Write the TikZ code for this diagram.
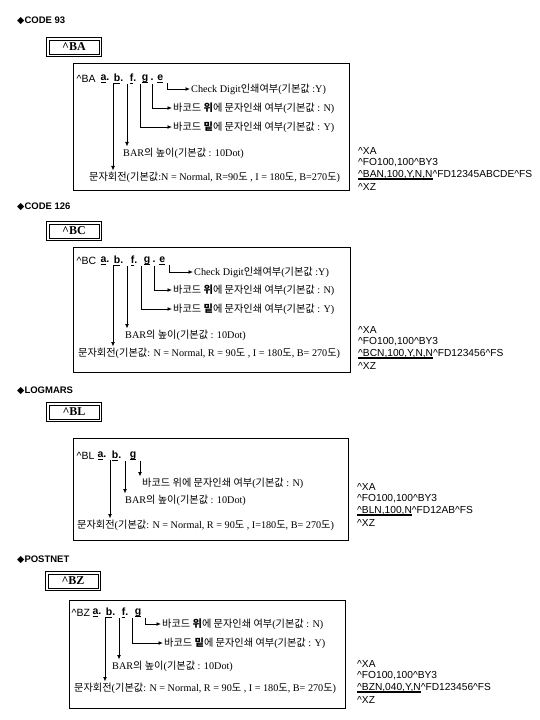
\documentclass[tikz,border=0pt]{standalone}
\usepackage{fontspec}
\setmainfont{Liberation Serif}
\setsansfont{Liberation Sans}
\newfontfamily\krfont{Noto Sans CJK KR}
\newfontfamily\symfont{DejaVu Sans}
\usetikzlibrary{arrows.meta}

\newcommand{\ko}[1]{{\krfont #1}}
\newcommand{\uln}[2][0.9pt]{\setbox0\hbox{#2}\rlap{\rule[-1.9pt]{\wd0}{#1}}\box0}

\tikzset{
  hd/.style={font=\sffamily\bfseries\fontsize{9.5}{11}\selectfont, anchor=west, inner sep=0pt},
  cmdbox/.style={minimum width=54pt, minimum height=18pt, inner sep=0pt, font=\bfseries\fontsize{12}{13}\selectfont},
  boxline/.style={draw, line width=0.7pt},
  frame/.style={draw, line width=0.8pt},
  row/.style={font=\sffamily\fontsize{10.5}{11}\selectfont, anchor=west, inner sep=0.5pt},
  letter/.style={font=\sffamily\bfseries\fontsize{10.5}{11}\selectfont, anchor=east, inner sep=0.5pt},
  desc/.style={font=\fontsize{10.2}{11}\selectfont, anchor=west, inner sep=1pt},
  zpl/.style={font=\sffamily\fontsize{10.2}{11}\selectfont, anchor=west, inner sep=0pt},
  arr/.style={-{Latex[length=4.5pt,width=4pt]}, line width=1pt}
}

\begin{document}
\begin{tikzpicture}[x=1pt,y=-1pt]
\useasboundingbox (0,0) rectangle (540,720);

% CODE 93
\node[hd] (t93) at (17,21) {{\symfont ◆}CODE 93};
\node[cmdbox] (ba) at (74,47) {\textasciicircum BA};
\draw[boxline] (ba.south west) rectangle (ba.north east);
\draw[boxline] ([shift={(2.2pt,2.2pt)}]ba.south west) rectangle ([shift={(-2.2pt,-2.2pt)}]ba.north east);
\draw[frame] (73,63) rectangle (349,190);
\node[row] (ba-cmd) at (76,79) {\textasciicircum BA};
\node[letter] (ba-a) at (110,79) {\uln{a}.};
\node[letter] (ba-b) at (124,79) {\uln{b}.};
\node[letter] (ba-f) at (137,79) {\uln{f}.};
\node[letter] (ba-g) at (149,79) {\uln{g}};
\node[letter] (ba-e) at (164,79) {. \uln{e}};
\node[desc] (ba-chk) at (190,89) {Check Digit\ko{인쇄여부}(\ko{기본값} :Y)};
\node[desc] (ba-top) at (172,108) {\ko{바코드 \textbf{위}에 문자인쇄 여부}(\ko{기본값} : N)};
\node[desc] (ba-bot) at (172,127) {\ko{바코드 \textbf{밑}에 문자인쇄 여부}(\ko{기본값} : Y)};
\node[desc] (ba-bar) at (122,153) {BAR\ko{의 높이}(\ko{기본값} : 10Dot)};
\node[desc] (ba-rot) at (88,177) {\ko{문자회전}(\ko{기본값}:N = Normal, R=90\ko{도} , I = 180\ko{도}, B=270\ko{도})};
\draw[arr] ([xshift=3pt]ba-e.south east) |- (ba-chk);
\draw[arr] ([xshift=3pt]ba-g.south east) |- (ba-top);
\draw[arr] ([xshift=3pt]ba-f.south east) |- (ba-bot);
\draw[arr] ([xshift=3pt]ba-b.south east) -- ([xshift=3pt]ba-b.south east |- ba-bar.north);
\draw[arr] ([xshift=3pt]ba-a.south east) -- ([xshift=3pt]ba-a.south east |- ba-rot.north);
\node[zpl] (ba-xa) at (358,151) {\textasciicircum XA};
\node[zpl] (ba-fo) at (358,163) {\textasciicircum FO100,100\textasciicircum BY3};
\node[zpl] (ba-fd) at (358,175) {\uln[1.3pt]{\textasciicircum BAN,100,Y,N,N}\textasciicircum FD12345ABCDE\textasciicircum FS};
\node[zpl] (ba-xz) at (358,187) {\textasciicircum XZ};

% CODE 128
\node[hd] (t128) at (17,207) {{\symfont ◆}CODE 126};
\node[cmdbox] (bc) at (74,231) {\textasciicircum BC};
\draw[boxline] (bc.south west) rectangle (bc.north east);
\draw[boxline] ([shift={(2.2pt,2.2pt)}]bc.south west) rectangle ([shift={(-2.2pt,-2.2pt)}]bc.north east);
\draw[frame] (73,247) rectangle (350,372);
\node[row] (bc-cmd) at (76,261) {\textasciicircum BC};
\node[letter] (bc-a) at (110,261) {\uln{a}.};
\node[letter] (bc-b) at (124,261) {\uln{b}.};
\node[letter] (bc-f) at (138,261) {\uln{f}.};
\node[letter] (bc-g) at (151,261) {\uln{g}};
\node[letter] (bc-e) at (166,261) {. \uln{e}};
\node[desc] (bc-chk) at (193,272) {Check Digit\ko{인쇄여부}(\ko{기본값} :Y)};
\node[desc] (bc-top) at (172,290) {\ko{바코드 \textbf{위}에 문자인쇄 여부}(\ko{기본값} : N)};
\node[desc] (bc-bot) at (172,309) {\ko{바코드 \textbf{밑}에 문자인쇄 여부}(\ko{기본값} : Y)};
\node[desc] (bc-bar) at (124,335) {BAR\ko{의 높이}(\ko{기본값} : 10Dot)};
\node[desc] (bc-rot) at (77,353) {\ko{문자회전}(\ko{기본값}: N = Normal, R = 90\ko{도} , I = 180\ko{도}, B= 270\ko{도})};
\draw[arr] ([xshift=3pt]bc-e.south east) |- (bc-chk);
\draw[arr] ([xshift=3pt]bc-g.south east) |- (bc-top);
\draw[arr] ([xshift=3pt]bc-f.south east) |- (bc-bot);
\draw[arr] ([xshift=3pt]bc-b.south east) -- ([xshift=3pt]bc-b.south east |- bc-bar.north);
\draw[arr] ([xshift=3pt]bc-a.south east) -- ([xshift=3pt]bc-a.south east |- bc-rot.north);
\node[zpl] (bc-xa) at (358,330) {\textasciicircum XA};
\node[zpl] (bc-fo) at (358,342) {\textasciicircum FO100,100\textasciicircum BY3};
\node[zpl] (bc-fd) at (358,354) {\uln[1.3pt]{\textasciicircum BCN,100,Y,N,N}\textasciicircum FD123456\textasciicircum FS};
\node[zpl] (bc-xz) at (358,366) {\textasciicircum XZ};

% LOGMARS
\node[hd] (tlog) at (17,391) {{\symfont ◆}LOGMARS};
\node[cmdbox] (bl) at (74,412) {\textasciicircum BL};
\draw[boxline] (bl.south west) rectangle (bl.north east);
\draw[boxline] ([shift={(2.2pt,2.2pt)}]bl.south west) rectangle ([shift={(-2.2pt,-2.2pt)}]bl.north east);
\draw[frame] (73,438) rectangle (348,540);
\node[row] (bl-cmd) at (76,456) {\textasciicircum BL};
\node[letter] (bl-a) at (107,456) {\uln{a}.};
\node[letter] (bl-b) at (122,456) {\uln{b}.};
\node[letter] (bl-g) at (137,456) {\uln{g}};
\node[desc] (bl-top) at (141,483) {\ko{바코드 위에 문자인쇄 여부}(\ko{기본값} : N)};
\node[desc] (bl-bar) at (124,500) {BAR\ko{의 높이}(\ko{기본값} : 10Dot)};
\node[desc] (bl-rot) at (76,525) {\ko{문자회전}(\ko{기본값}: N = Normal, R = 90\ko{도} , I=180\ko{도}, B= 270\ko{도})};
\draw[arr] ([xshift=3pt]bl-g.south east) -- ([xshift=3pt]bl-g.south east |- bl-top.north);
\draw[arr] ([xshift=3pt]bl-b.south east) -- ([xshift=3pt]bl-b.south east |- bl-bar.north);
\draw[arr] ([xshift=3pt]bl-a.south east) -- ([xshift=3pt]bl-a.south east |- bl-rot.north);
\node[zpl] (bl-xa) at (357,487) {\textasciicircum XA};
\node[zpl] (bl-fo) at (357,499) {\textasciicircum FO100,100\textasciicircum BY3};
\node[zpl] (bl-fd) at (357,511) {\uln[1.3pt]{\textasciicircum BLN,100,N}\textasciicircum FD12AB\textasciicircum FS};
\node[zpl] (bl-xz) at (357,523) {\textasciicircum XZ};

% POSTNET
\node[hd] (tpost) at (17,560) {{\symfont ◆}POSTNET};
\node[cmdbox] (bz) at (73,581) {\textasciicircum BZ};
\draw[boxline] (bz.south west) rectangle (bz.north east);
\draw[boxline] ([shift={(2.2pt,2.2pt)}]bz.south west) rectangle ([shift={(-2.2pt,-2.2pt)}]bz.north east);
\draw[frame] (69,600) rectangle (345,708);
\node[row] (bz-cmd) at (71,613) {\textasciicircum BZ};
\node[letter] (bz-a) at (102,613) {\uln{a}.};
\node[letter] (bz-b) at (116,613) {\uln{b}.};
\node[letter] (bz-f) at (129,613) {\uln{f}.};
\node[letter] (bz-g) at (142,613) {\uln{g}};
\node[desc] (bz-top) at (161,624) {\ko{바코드 \textbf{위}에 문자인쇄 여부}(\ko{기본값} : N)};
\node[desc] (bz-bot) at (163,643) {\ko{바코드 \textbf{밑}에 문자인쇄 여부}(\ko{기본값} : Y)};
\node[desc] (bz-bar) at (111,666) {BAR\ko{의 높이}(\ko{기본값} : 10Dot)};
\node[desc] (bz-rot) at (73,688) {\ko{문자회전}(\ko{기본값}: N = Normal, R = 90\ko{도} , I = 180\ko{도}, B= 270\ko{도})};
\draw[arr] ([xshift=3pt]bz-g.south east) |- (bz-top);
\draw[arr] ([xshift=3pt]bz-f.south east) |- (bz-bot);
\draw[arr] ([xshift=3pt]bz-b.south east) -- ([xshift=3pt]bz-b.south east |- bz-bar.north);
\draw[arr] ([xshift=3pt]bz-a.south east) -- ([xshift=3pt]bz-a.south east |- bz-rot.north);
\node[zpl] (bz-xa) at (357,664) {\textasciicircum XA};
\node[zpl] (bz-fo) at (357,676) {\textasciicircum FO100,100\textasciicircum BY3};
\node[zpl] (bz-fd) at (357,688) {\uln[1.3pt]{\textasciicircum BZN,040,Y,N}\textasciicircum FD123456\textasciicircum FS};
\node[zpl] (bz-xz) at (357,700) {\textasciicircum XZ};
\end{tikzpicture}
\end{document}
